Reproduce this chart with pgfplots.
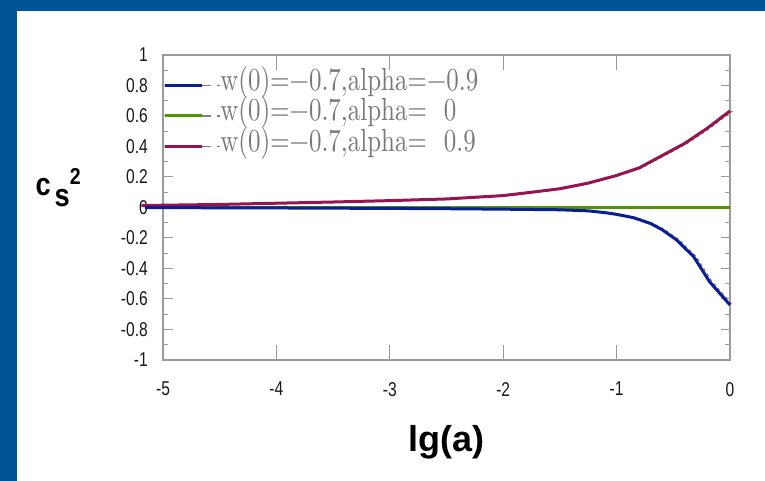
\documentclass[border=0pt]{standalone}
\usepackage{fontspec}
\usepackage{pgfplots}
\pgfplotsset{compat=1.18}
\newfontfamily\tickfont[FakeStretch=0.78]{Liberation Sans}
\newfontfamily\labfont[FakeStretch=0.85]{Liberation Sans}
\newfontfamily\xlabfont{Liberation Sans}
\newfontfamily\legfont[FakeStretch=0.78]{lmroman10-regular.otf}
\definecolor{barblue}{RGB}{0,85,150}
\definecolor{cblue}{RGB}{10,30,150}
\definecolor{cgreen}{RGB}{80,150,0}
\definecolor{cred}{RGB}{150,20,80}
\definecolor{axisgray}{RGB}{155,155,155}
\definecolor{leggray}{RGB}{120,120,120}

% curves
\pgfplotstableread{
x y
-5.19 0.012
-5 0.015
-4.5 0.02
-4 0.028
-3.5 0.036
-3 0.045
-2.5 0.056
-2 0.078
-1.75 0.1
-1.5 0.123
-1.25 0.16
-1 0.21
-0.8 0.26
-0.6 0.34
-0.4 0.42
-0.2 0.52
0 0.633
}\redcurve
\pgfplotstableread{
x y
-5.16 0
-4 0
-2 0
0 0
}\greencurve
\pgfplotstableread{
x y
-5.16 0.0
-5 -0.001
-4 -0.003
-3 -0.006
-2.5 -0.008
-2 -0.011
-1.5 -0.015
-1.25 -0.022
-1.1 -0.034
-1 -0.045
-0.85 -0.067
-0.7 -0.105
-0.6 -0.145
-0.47 -0.213
-0.32 -0.323
-0.18 -0.487
0 -0.639
}\bluecurve

\begin{document}
\begin{tikzpicture}
\path[use as bounding box, fill=white] (0,0) rectangle (765pt,481pt);
\fill[barblue] (0,470pt) rectangle (765pt,481pt);
\fill[barblue] (0,0) rectangle (17pt,481pt);
\begin{axis}[
  at={(163pt,121pt)}, anchor=south west,
  scale only axis, width=567pt, height=305pt,
  xmin=-5, xmax=0, ymin=-1, ymax=1,
  clip=false,
  axis line style={draw=axisgray, line width=1.2pt},
  tick align=inside,
  every tick/.style={axisgray, line width=1pt},
  xtick={-5,-4,...,0},
  ytick={-1,-0.8,-0.6,-0.4,-0.2,0,0.2,0.4,0.6,0.8,1},
  minor y tick num=1,
  xtick style={/pgfplots/major tick length=15pt},
  ytick style={/pgfplots/major tick length=9.5pt, /pgfplots/minor tick length=5pt},
  xticklabels={-5,-4,-3,-2,-1,0},
  yticklabels={-1,-0.8,-0.6,-0.4,-0.2,0,0.2,0.4,0.6,0.8,1},
  ticklabel style={text=black!90, font=\tickfont\fontsize{20}{20}\selectfont},
  xticklabel style={anchor=north, inner sep=0pt, yshift=-22pt},
  yticklabel style={anchor=east, inner sep=0pt, xshift=-15pt},
  xlabel={lg(a)},
  xlabel style={at={(axis description cs:0.5,0)}, anchor=center, yshift=-82pt,
    font=\xlabfont\bfseries\fontsize{36}{36}\selectfont},
  ylabel={c\hspace{4pt}\raisebox{-11pt}{s}\raisebox{11pt}{\fontsize{23}{23}\selectfont 2}},
  every axis y label/.style={at={(axis description cs:-0.185,0.565)}, anchor=center,
    font=\labfont\bfseries\fontsize{32}{32}\selectfont},
  legend style={at={(axis description cs:0,1)}, anchor=north west, xshift=0pt, yshift=-15pt,
    draw=none, fill=none, inner sep=0pt, row sep=0pt, column sep=0pt,
    font=\legfont\fontsize{32}{32}\selectfont, text=leggray,
    nodes={inner sep=0pt, text height=20pt, text depth=10.5pt}},
  legend cell align=left,
  reverse legend,
  legend image code/.code={
    \draw[#1] (0pt,0pt) -- (37pt,0pt);
    \draw[gray, line width=1.2pt, dash pattern=on 9pt off 6pt] (37pt,0pt) -- (55pt,0pt);
  },
]
% faint gray dashed companions
\addplot[forget plot, gray, line width=1.2pt, dashed, xshift=2.5pt] table {\redcurve};
\addplot[forget plot, gray, line width=1.2pt, dashed, xshift=2.5pt] table {\bluecurve};
\addplot[cred, line width=3pt] table {\redcurve};
\addlegendentry{w(0)=−0.7,alpha=\hspace{17pt}0.9}
\addplot[cgreen, line width=3pt] table {\greencurve};
\addlegendentry{w(0)=−0.7,alpha=\hspace{17pt}0}
\addplot[cblue, line width=3pt] table {\bluecurve};
\addlegendentry{w(0)=−0.7,alpha=−0.9}
\end{axis}
\end{tikzpicture}
\end{document}
